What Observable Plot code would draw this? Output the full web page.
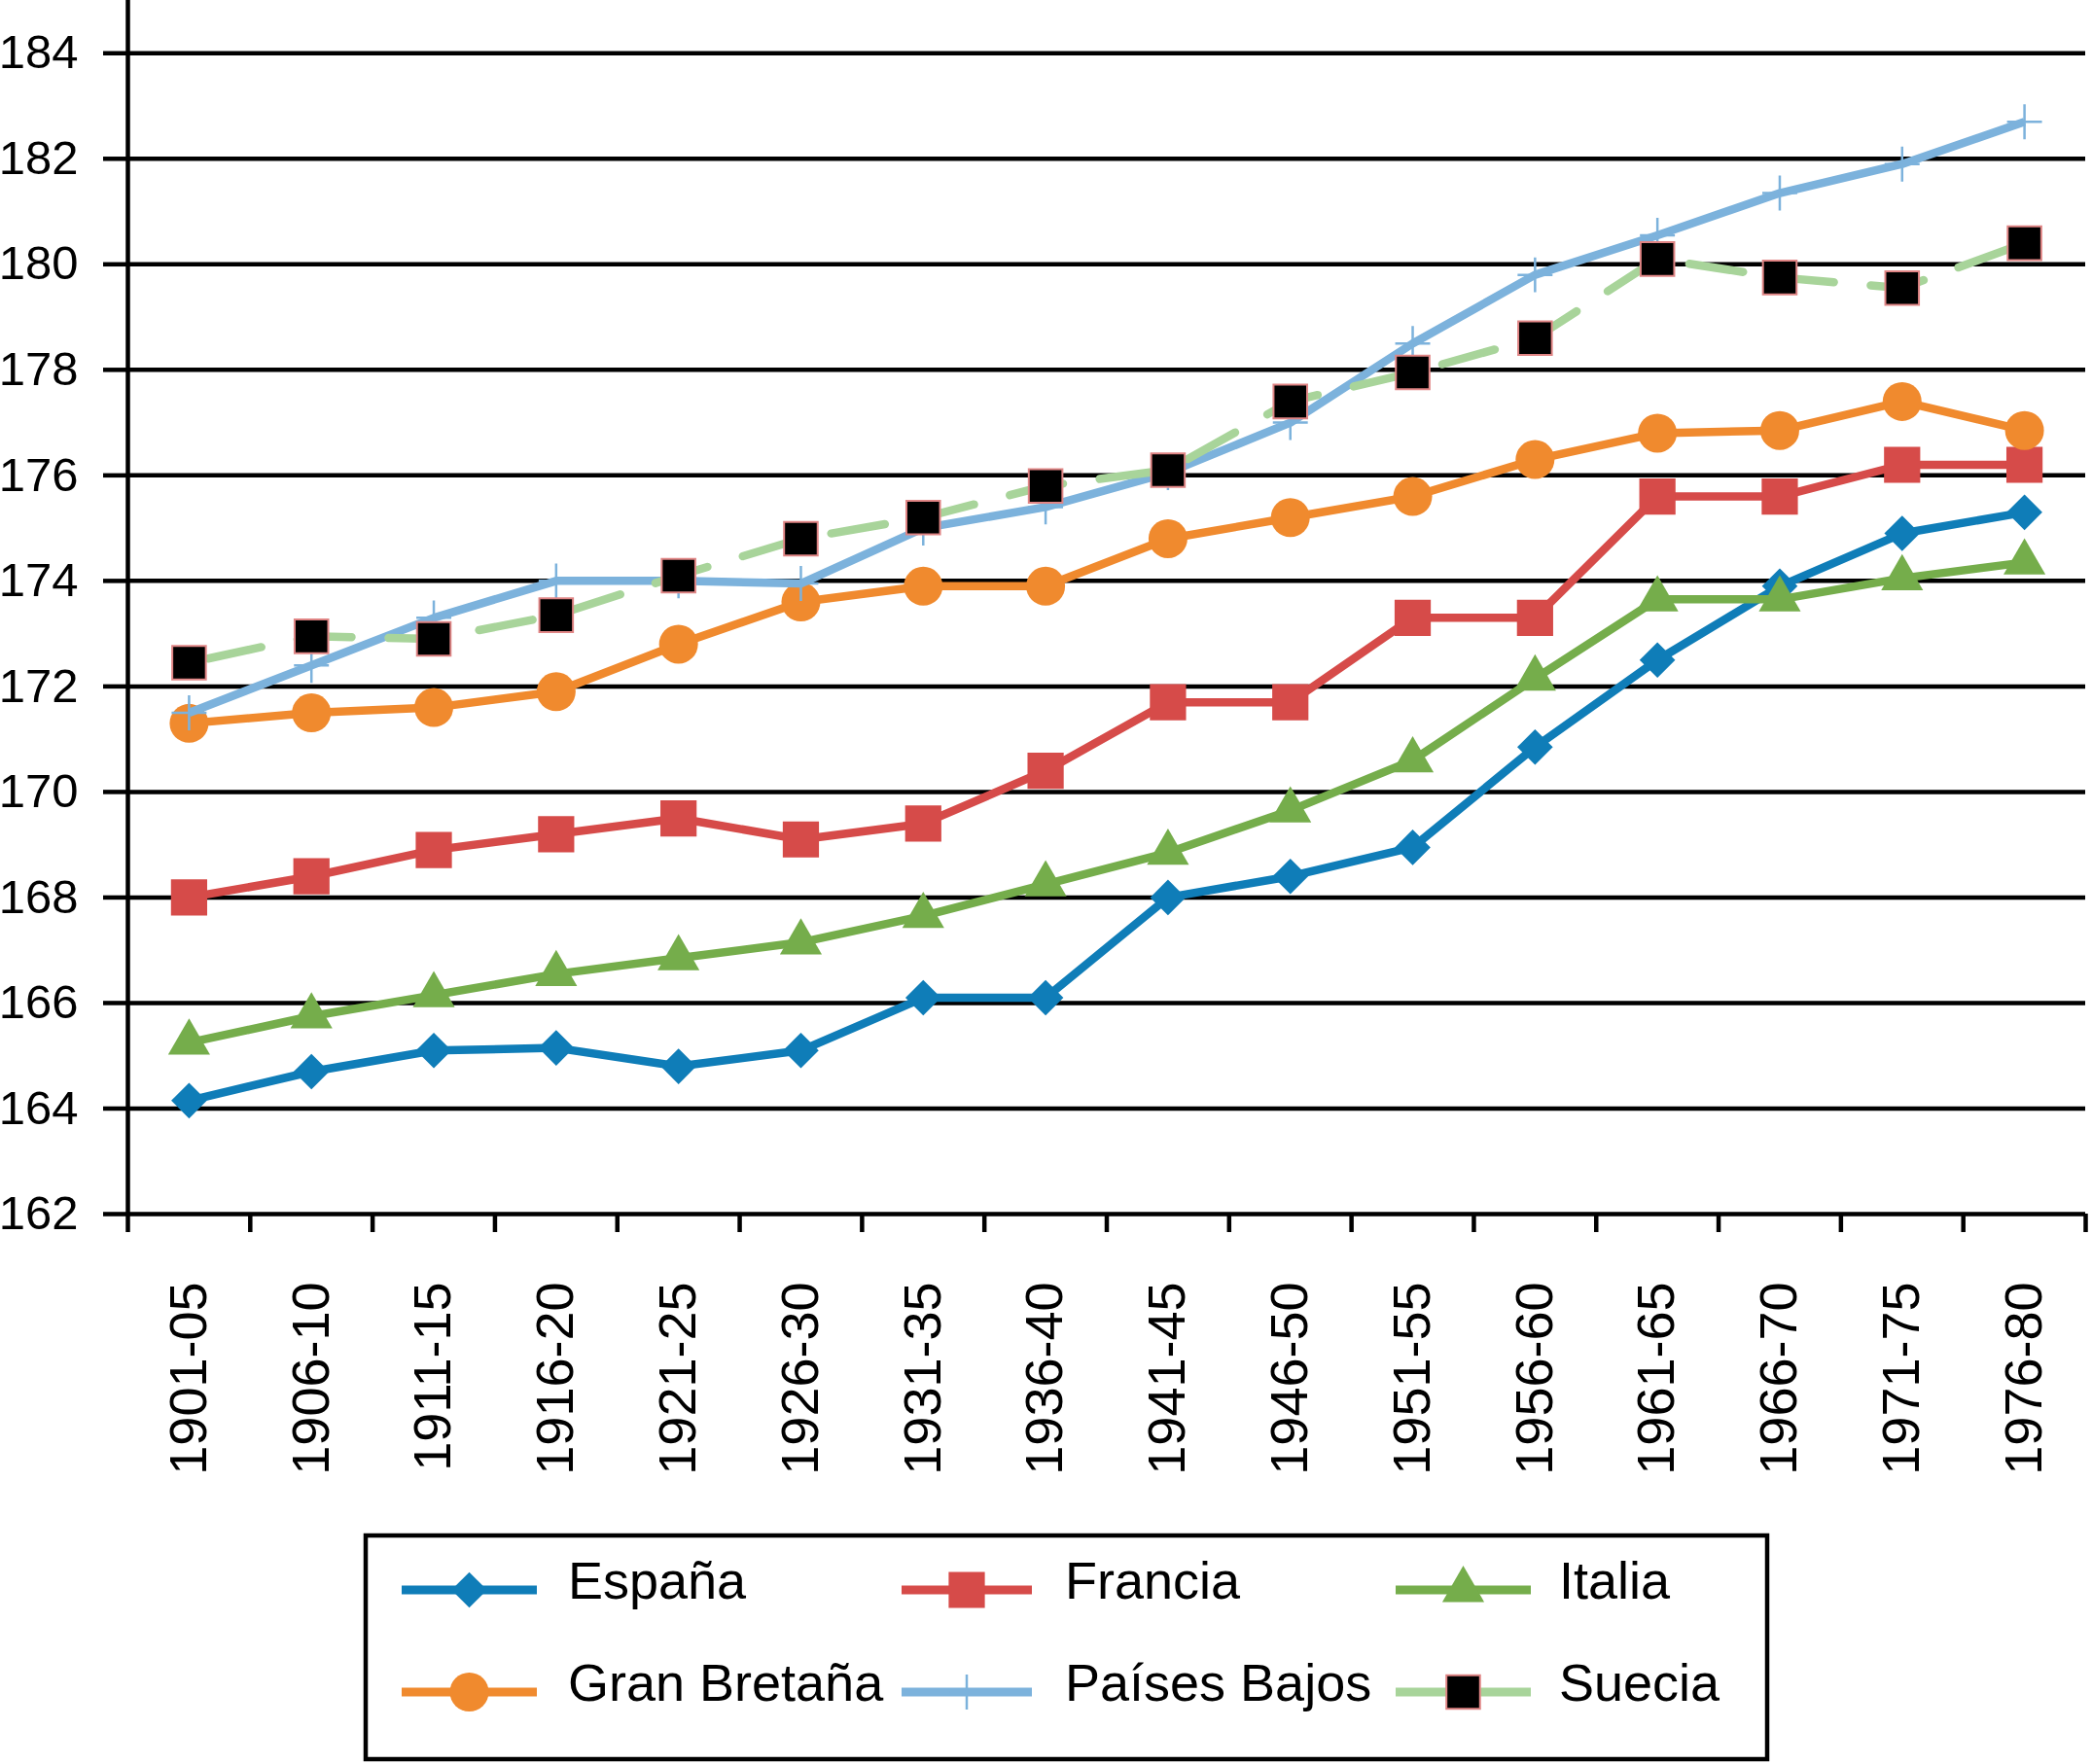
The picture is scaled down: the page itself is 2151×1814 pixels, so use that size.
<!DOCTYPE html>
<html>
<head>
<meta charset="utf-8">
<script src="https://cdn.jsdelivr.net/npm/d3@7"></script>
<script src="https://cdn.jsdelivr.net/npm/@observablehq/plot@0.6"></script>
<style>
  html, body { margin: 0; padding: 0; background: #ffffff; }
  #chart svg { display: block; }
  #legend { display: block; }
</style>
</head>
<body>
<div id="chart"></div>
<script>
// ---- Data ----
const periods = ["1901-05","1906-10","1911-15","1916-20","1921-25","1926-30","1931-35","1936-40",
                 "1941-45","1946-50","1951-55","1956-60","1961-65","1966-70","1971-75","1976-80"];
const yTicks = [162,164,166,168,170,172,174,176,178,180,182,184];

const espana      = [164.15,164.7,165.1,165.15,164.8,165.1,166.1,166.1,168.0,168.4,168.95,170.85,172.5,173.9,174.9,175.3];
const francia     = [168.0,168.4,168.9,169.2,169.5,169.1,169.4,170.4,171.7,171.7,173.3,173.3,175.6,175.6,176.2,176.2];
const italia      = [165.25,165.75,166.15,166.55,166.85,167.15,167.65,168.25,168.85,169.65,170.6,172.15,173.65,173.65,174.05,174.35];
const granBretana = [171.3,171.5,171.6,171.9,172.8,173.6,173.9,173.9,174.8,175.2,175.6,176.3,176.8,176.85,177.4,176.85];
const paisesBajos = [171.5,172.4,173.3,174.0,174.0,173.95,175.0,175.4,176.05,177.0,178.5,179.8,180.55,181.35,181.9,182.7];
const suecia      = [172.45,172.95,172.9,173.35,174.1,174.8,175.2,175.8,176.1,177.4,177.95,178.6,180.1,179.75,179.55,180.4];

const seriesNames = ["España","Francia","Italia","Gran Bretaña","Países Bajos","Suecia"];
const seriesValues = [espana, francia, italia, granBretana, paisesBajos, suecia];

// ---- Styles ----
const styles = [
  {line: "#0f7db8", dash: null, symbol: "diamond2", r: 16.5, fill: "#0f7db8", stroke: "none", sw: 0},
  {line: "#d64b49", dash: null, symbol: "square",   r: 21,   fill: "#d64b49", stroke: "none", sw: 0},
  {line: "#75ad4b", dash: null, symbol: "triangle", r: 16,   fill: "#75ad4b", stroke: "none", sw: 0},
  {line: "#f08a2e", dash: null, symbol: "circle",   r: 20,   fill: "#f08a2e", stroke: "none", sw: 0},
  {line: "#7cb2dc", dash: null, symbol: "plus",     r: 11.6, fill: "none",    stroke: "#7cb2dc", sw: 2.5},
  {line: "#a8d49a", dash: "56,38", symbol: "square", r: 19.5, fill: "#000000", stroke: "#e08585", sw: 2}
];

const rows = seriesNames.map((name, s) =>
  seriesValues[s].map((v, i) => ({series: name, i, value: v})));

const bounds = d3.range(periods.length + 1).map(k => k - 0.5);
const centers = d3.range(periods.length);
const FONT = "'Liberation Sans', Arial, Helvetica, sans-serif";

const marks = [
  Plot.gridY(yTicks, {stroke: "#000", strokeOpacity: 1, strokeWidth: 4.5}),
  Plot.ruleX([-0.5], {stroke: "#000", strokeWidth: 4.5}),
  Plot.axisY(yTicks, {tickSize: 25, tickPadding: 26, fontSize: 49, strokeWidth: 4.5, tickFormat: d => String(d), label: null}),
  Plot.axisX(bounds, {tickSize: 19, strokeWidth: 4.5, tickFormat: () => "", label: null}),
  Plot.axisX(centers, {tickSize: 0, tickPadding: 70, tickRotate: -90, fontSize: 54, tickFormat: i => periods[i], label: null})
];

rows.forEach((data, s) => {
  const st = styles[s];
  marks.push(Plot.line(data, {x: "i", y: "value", stroke: st.line, strokeWidth: 8.5,
    strokeDasharray: st.dash || undefined, strokeDashoffset: st.dash ? -20 : undefined,
    strokeLinejoin: "round", strokeLinecap: st.dash ? "round" : "butt"}));
  marks.push(Plot.dot(data, {x: "i", y: "value", symbol: () => st.symbol, r: st.r,
    fill: st.fill, stroke: st.stroke, strokeWidth: st.sw}));
});

const chart = Plot.plot({
  width: 2151,
  height: 1575,
  marginLeft: 131,
  marginRight: 7,
  marginTop: 0,
  marginBottom: 327,
  style: {fontFamily: FONT, color: "#000", background: "#fff"},
  x: {type: "linear", domain: [-0.5, periods.length - 0.5]},
  y: {domain: [162, 185]},
  symbol: {type: "identity"},
  marks
});
document.getElementById("chart").appendChild(chart);

// ---- Legend (below the chart) ----
const legendH = 239;
const legend = d3.select("body").append("svg")
  .attr("id", "legend")
  .attr("width", 2151).attr("height", legendH)
  .style("font-family", FONT);

legend.append("rect")
  .attr("x", 376).attr("y", 4).attr("width", 1441).attr("height", 230)
  .attr("fill", "none").attr("stroke", "#000").attr("stroke-width", 4.5);

const symbolMap = {diamond2: d3.symbolDiamond2, square: d3.symbolSquare, triangle: d3.symbolTriangle,
                   circle: d3.symbolCircle, plus: d3.symbolPlus};
const colX = [[413, 552, 584], [927, 1061, 1095], [1435, 1574, 1603]];
const rowY = [60, 165];

seriesNames.forEach((name, s) => {
  const st = styles[s];
  const [x1, x2, tx] = colX[s % 3];
  const y = rowY[Math.floor(s / 3)];
  const g = legend.append("g");
  g.append("line").attr("x1", x1).attr("x2", x2).attr("y1", y).attr("y2", y)
    .attr("stroke", st.line).attr("stroke-width", 9);
  g.append("path")
    .attr("transform", `translate(${(x1 + x2) / 2},${y})`)
    .attr("d", d3.symbol().type(symbolMap[st.symbol]).size(Math.PI * st.r * st.r)())
    .attr("fill", st.fill).attr("stroke", st.stroke === "none" ? null : st.stroke)
    .attr("stroke-width", st.sw);
  g.append("text").attr("x", tx).attr("y", y + 9)
    .attr("font-size", 54).attr("fill", "#000").text(name);
});
</script>
</body>
</html>
